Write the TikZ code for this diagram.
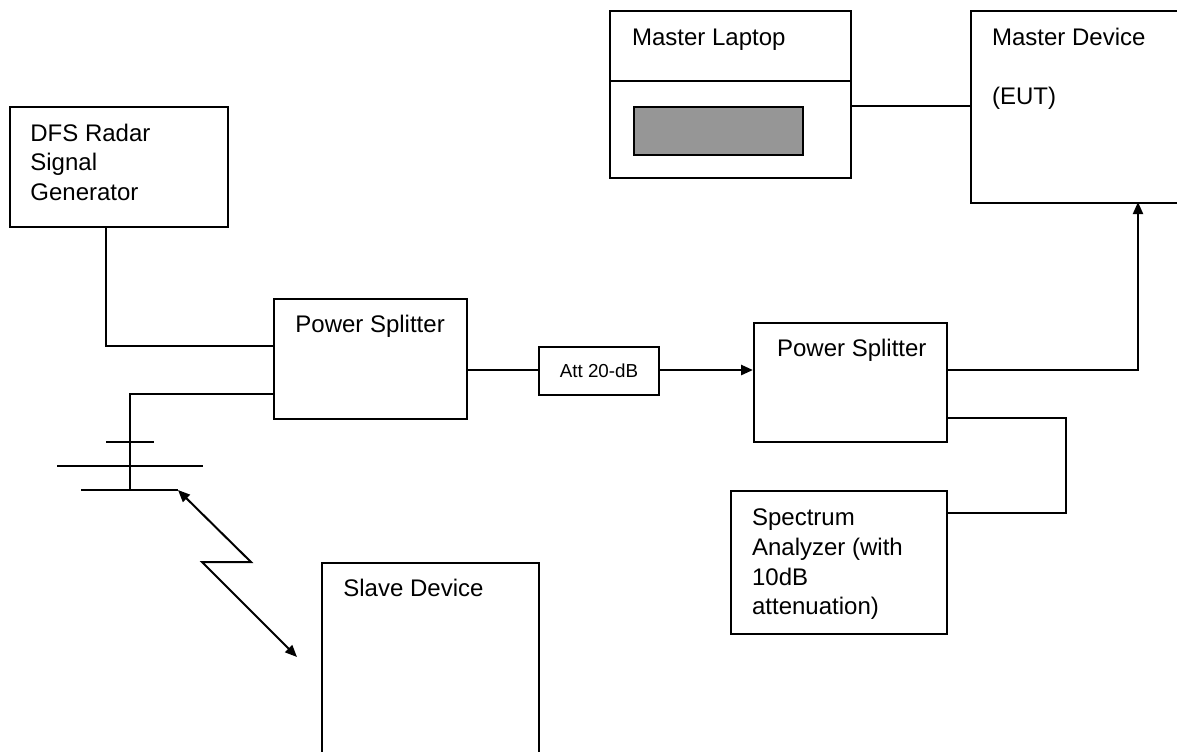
\documentclass[tikz,border=0pt]{standalone}
\usepackage{fontspec}
\setmainfont{Liberation Sans}
\usetikzlibrary{arrows.meta}
\begin{document}
\begin{tikzpicture}[x=0.5pt,y=-0.5pt,
  box/.style={draw,line width=1pt,rectangle,inner sep=0pt,anchor=north west},
  lbl/.style={anchor=base west,inner sep=0pt,font=\fontsize{12pt}{14pt}\selectfont},
  wire/.style={line width=1pt},
  tip/.style={-{Triangle[length=6pt,width=5pt]}},
  both/.style={{Triangle[length=6pt,width=5pt]}-{Triangle[length=6pt,width=5pt]}}
]
\clip (0,0) rectangle (1177,751);
\fill[white] (0,0) rectangle (1177,751);

% boxes
\node[box,minimum width=109pt,minimum height=60pt] (dfs) at (9,106) {};
\node[box,minimum width=96.5pt,minimum height=60pt] (ps1) at (273,298) {};
\node[box,minimum width=60pt,minimum height=24pt] (att) at (538,346) {};
\node[font=\fontsize{9.4pt}{11pt}\selectfont,inner sep=0pt] (atttxt) at (att.center) {Att 20-dB};
\node[box,minimum width=96.5pt,minimum height=59.5pt] (ps2) at (753,322) {};
\node[box,minimum width=108pt,minimum height=71.5pt] (spec) at (730,490) {};
\node[box,minimum width=120.5pt,minimum height=83.5pt] (lap) at (609,10) {};
\node[box,minimum width=84.5pt,minimum height=24pt,fill={rgb,255:red,150;green,150;blue,150}] (screen) at (633,106) {};
\node[box,minimum width=120pt,minimum height=96pt] (master) at (970,10) {};
\node[box,minimum width=108.5pt,minimum height=110pt] (slave) at (321,562) {};

% laptop divider
\coordinate (ldl) at (609,81);
\coordinate (ldr) at (850,81);
\draw[wire] (ldl) -- (ldr);

% texts
\node[lbl] (t1) at (30,141) {DFS Radar};
\node[lbl] (t2) at (30,170.7) {Signal};
\node[lbl] (t3) at (30,200) {Generator};
\node[lbl] (t4) at (295,332.7) {Power Splitter};
\node[lbl] (t5) at (776.7,356.7) {Power Splitter};
\node[lbl] (t6) at (631.7,45) {Master Laptop};
\node[lbl] (t7) at (991.7,45) {Master Device};
\node[lbl] (t8) at (991.7,104) {(EUT)};
\node[lbl] (t9) at (751.7,525) {Spectrum};
\node[lbl] (t10) at (751.7,555) {Analyzer (with};
\node[lbl] (t11) at (751.7,585) {10dB};
\node[lbl] (t12) at (751.7,614.3) {attenuation)};
\node[lbl] (t13) at (343,596.7) {Slave Device};

% connection points
\coordinate (dfsout) at (106,226);
\coordinate (ps1in1) at (273,346);
\coordinate (ps1in2) at (273,394);
\coordinate (antbot) at (130,490);
\coordinate (ps1out) at (466,370);
\coordinate (ps2in) at (753,370);
\coordinate (ps2out1) at (946,370);
\coordinate (ps2out2) at (946,418);
\coordinate (mdin) at (1138,202);
\coordinate (specin) at (946,513);
\coordinate (turn) at (1066,418);
\coordinate (lapout) at (850,106);
\coordinate (mdin2) at (970,106);

\draw[wire] (dfsout) |- (ps1in1);
\draw[wire] (ps1in2) -| (antbot);
\draw[wire] (ps1out) -- (ps1out -| att.west);
\draw[wire,tip,line width=1.3pt] (ps1out -| att.east) -- (ps2in);
\draw[wire,tip] (ps2out1) -| (mdin);
\draw[wire] (ps2out2) -- (turn) |- (specin);
\draw[wire] (lapout) -- (mdin2);

% antenna
\coordinate (a1l) at (106,442); \coordinate (a1r) at (154,442);
\coordinate (a2l) at (57,466);  \coordinate (a2r) at (203,466);
\coordinate (a3l) at (81,490);  \coordinate (a3r) at (178,490);
\draw[wire] (a1l) -- (a1r);
\draw[wire] (a2l) -- (a2r);
\draw[wire] (a3l) -- (a3r);

% wireless link
\coordinate (z1) at (251,562);
\coordinate (z2) at (202,562);
\coordinate (z3) at (297,657);
\draw[wire,both] (a3r) -- (z1) -- (z2) -- (z3);
\end{tikzpicture}
\end{document}
